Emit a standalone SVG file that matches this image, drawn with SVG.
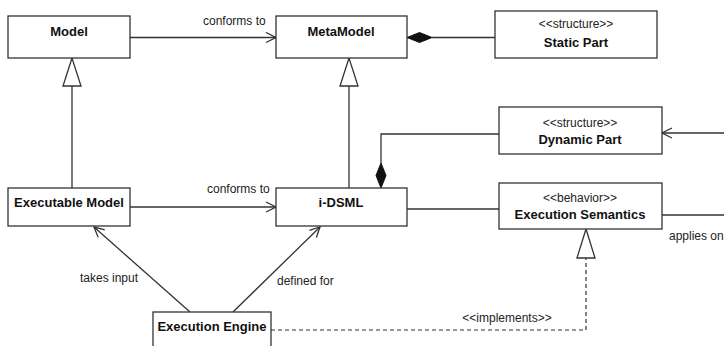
<svg xmlns="http://www.w3.org/2000/svg" width="724" height="346" viewBox="0 0 724 346">
<defs>
<style>
.box{fill:#fff;stroke:#333;stroke-width:1.3}
.ln{fill:none;stroke:#333;stroke-width:1.3}
.dash{fill:none;stroke:#333;stroke-width:1.2;stroke-dasharray:4 3}
.b{font-family:"Liberation Sans",Arial,sans-serif;font-weight:bold;font-size:13px;fill:#111;text-anchor:middle}
.r{font-family:"Liberation Sans",Arial,sans-serif;font-size:12px;fill:#222}
.c{text-anchor:middle}
.tri{fill:#fff;stroke:#333;stroke-width:1.3}
.dia{fill:#111;stroke:#111;stroke-width:1}
</style>
<marker id="open" viewBox="0 0 12 12" refX="11" refY="6" markerWidth="12" markerHeight="12" markerUnits="userSpaceOnUse" orient="auto">
<path d="M1,1 L11,6 L1,11" fill="none" stroke="#333" stroke-width="1.3"/>
</marker>
</defs>
<rect width="724" height="346" fill="#fff"/>
<g id="connectors">
<line class="ln" x1="130" y1="37.5" x2="276" y2="37.5" marker-end="url(#open)"/>
<text class="r" x="203" y="25">conforms to</text>
<line class="ln" x1="432" y1="37.5" x2="495" y2="37.5"/>
<polygon class="dia" points="407,37.5 419.5,32.5 432,37.5 419.5,42.5"/>
<line class="ln" x1="72" y1="86" x2="72" y2="188"/>
<polygon class="tri" points="72,58 63,86 81,86"/>
<line class="ln" x1="349" y1="86" x2="349" y2="188"/>
<polygon class="tri" points="349,58 340,86 358,86"/>
<line class="ln" x1="130" y1="207" x2="276" y2="207" marker-end="url(#open)"/>
<text class="r" x="207" y="193">conforms to</text>
<polyline class="ln" points="381,163 381,134 499,134"/>
<polygon class="dia" points="381,188 376,175.5 381,163 386,175.5"/>
<line class="ln" x1="724" y1="133" x2="662" y2="133" marker-end="url(#open)"/>
<line class="ln" x1="407" y1="209" x2="499" y2="209"/>
<line class="ln" x1="662" y1="215" x2="724" y2="215"/>
<text class="r" x="669" y="240">applies on</text>
<polyline class="dash" points="271,330 586,330 586,258"/>
<polygon class="tri" points="586,229 577,258 595,258"/>
<text class="r c" x="507" y="322">&lt;&lt;implements&gt;&gt;</text>
<line class="ln" x1="190" y1="312" x2="94" y2="227" marker-end="url(#open)"/>
<text class="r" x="80" y="282">takes input</text>
<line class="ln" x1="233" y1="312" x2="320" y2="227" marker-end="url(#open)"/>
<text class="r" x="277" y="285">defined for</text>
</g>
<g id="model">
<rect class="box" x="8" y="16" width="122" height="42"/>
<text class="b" x="69" y="36">Model</text>
</g>
<g id="metamodel">
<rect class="box" x="276" y="16" width="131" height="42"/>
<text class="b" x="341" y="36">MetaModel</text>
</g>
<g id="static-part">
<rect class="box" x="495" y="11" width="162" height="47"/>
<text class="r c" x="576" y="28">&lt;&lt;structure&gt;&gt;</text>
<text class="b" x="576" y="47">Static Part</text>
</g>
<g id="executable-model">
<rect class="box" x="8" y="188" width="122" height="38"/>
<text class="b" x="69" y="207">Executable Model</text>
</g>
<g id="i-dsml">
<rect class="box" x="276" y="188" width="131" height="38"/>
<text class="b" x="341" y="207">i-DSML</text>
</g>
<g id="dynamic-part">
<rect class="box" x="499" y="107" width="163" height="47"/>
<text class="r c" x="580" y="127">&lt;&lt;structure&gt;&gt;</text>
<text class="b" x="580" y="144">Dynamic Part</text>
</g>
<g id="execution-semantics">
<rect class="box" x="499" y="183" width="163" height="46"/>
<text class="r c" x="580" y="202">&lt;&lt;behavior&gt;&gt;</text>
<text class="b" x="580" y="219">Execution Semantics</text>
</g>
<g id="execution-engine">
<rect class="box" x="153" y="312" width="118" height="40"/>
<text class="b" x="212" y="331">Execution Engine</text>
</g>
</svg>
